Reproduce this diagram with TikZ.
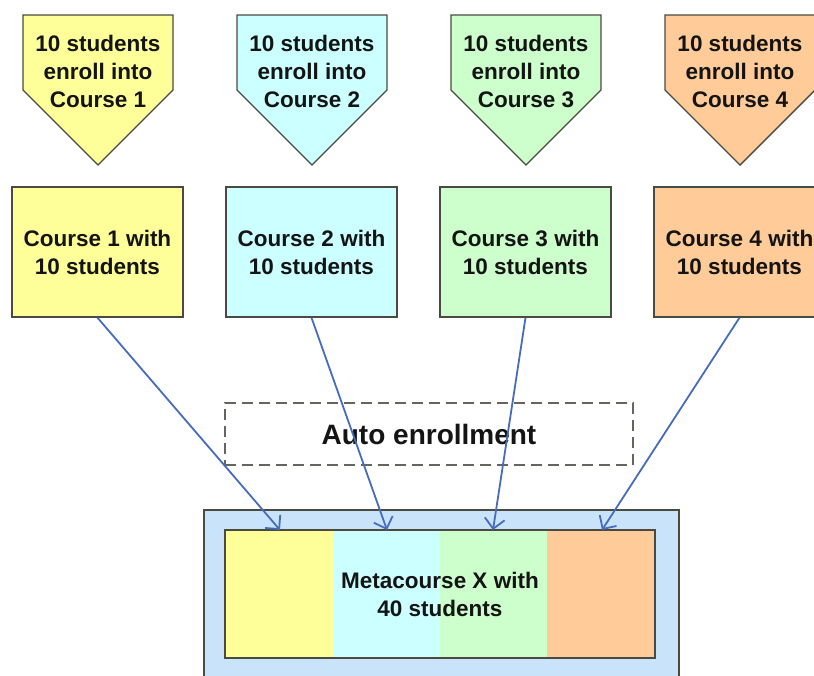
\documentclass[tikz,border=0pt]{standalone}
\usepackage{fontspec}
\setmainfont{Liberation Sans}
\usetikzlibrary{arrows.meta}
\definecolor{cy}{HTML}{FFFF99}
\definecolor{cc}{HTML}{CCFFFF}
\definecolor{cg}{HTML}{CCFFCC}
\definecolor{co}{HTML}{FFCC99}
\definecolor{cb}{HTML}{C9E4FA}
\definecolor{edge}{HTML}{4A4A40}
\definecolor{arrc}{RGB}{72,108,188}
\definecolor{txt}{HTML}{141414}
\tikzset{
  penta/.style={draw=edge, line width=1.4pt},
  ptext/.style={align=center, inner sep=0pt, text=txt, font=\fontsize{22.5}{28}\selectfont\bfseries},
  course/.style={draw=edge, line width=1.4pt, minimum width=171pt, minimum height=130pt, inner sep=0pt, align=center, text=txt, font=\fontsize{22.5}{28}\selectfont\bfseries},
  arr/.style={draw=arrc, line width=1.8pt, -{Straight Barb[length=10pt,width=20pt,line width=1.8pt]}},
}
\begin{document}
\begin{tikzpicture}[x=1pt,y=-1pt]
\useasboundingbox (0,0) rectangle (814,675);
\clip (0,0) rectangle (814,675);
\fill[white] (0,0) rectangle (814,675);
% pentagons
\foreach \cx/\col/\n in {98/cy/1, 312/cc/2, 526/cg/3, 740/co/4}{
  \draw[penta, fill=\col] (\cx-75,15) -- (\cx+75,15) -- (\cx+75,90) -- (\cx,165) -- (\cx-75,90) -- cycle;
  \node[ptext] (p\n) at (\cx,71) {10 students\\enroll into\\Course \n};
}
% courses
\node[course, fill=cy] (c1) at (97.5,252) {Course 1 with\\10 students};
\node[course, fill=cc] (c2) at (311.5,252) {Course 2 with\\10 students};
\node[course, fill=cg] (c3) at (525.5,252) {Course 3 with\\10 students};
\node[course, fill=co] (c4) at (739.5,252) {Course 4 with\\10 students};
% auto enrollment
\node[draw=edge!85, dashed, dash pattern=on 11pt off 6pt, line width=1.8pt, minimum width=408pt, minimum height=62pt, inner sep=0pt, text=txt, font=\fontsize{28}{32}\selectfont\bfseries] (auto) at (429,434) {Auto enrollment};
% metacourse
\draw[draw=edge, line width=1.4pt, fill=cb] (204,510) rectangle (679,700);
\fill[cy] (225,530) rectangle (333,658);
\fill[cc] (333,530) rectangle (440,658);
\fill[cg] (440,530) rectangle (547,658);
\fill[co] (547,530) rectangle (655,658);
\node[draw=edge, line width=1.4pt, minimum width=430pt, minimum height=128pt, inner sep=0pt, align=center, text=txt, font=\fontsize{22.5}{28}\selectfont\bfseries] (meta) at (440,594) {Metacourse X with\\40 students};
\coordinate (t1) at (280,530);
\coordinate (t2) at (387,530);
\coordinate (t3) at (493,530);
\coordinate (t4) at (602,530);
\draw[arr] (c1.south) -- (t1);
\draw[arr] (c2.south) -- (t2);
\draw[arr] (c3.south) -- (t3);
\draw[arr] (c4.south) -- (t4);
\end{tikzpicture}
\end{document}
